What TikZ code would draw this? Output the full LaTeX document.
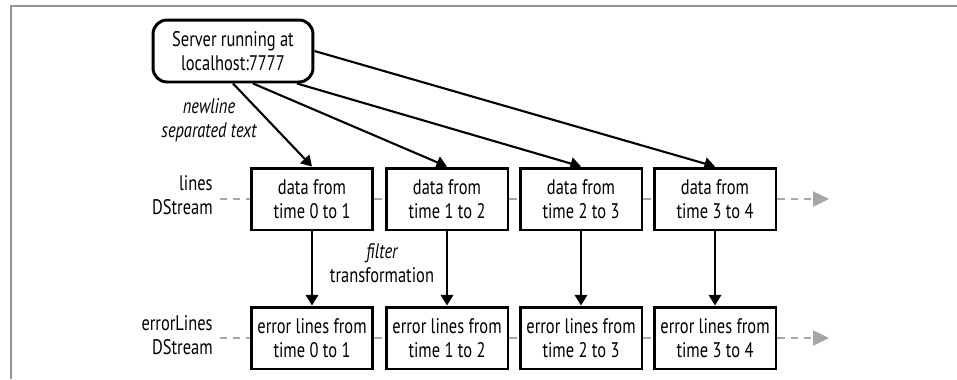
\documentclass[tikz,border=0pt]{standalone}
\usepackage{fontspec}
\setmainfont{PT Sans}[FakeStretch=0.78]
\usetikzlibrary{arrows.meta, positioning}

\begin{document}
\begin{tikzpicture}[x=0.02cm, y=-0.02cm,
    every node/.style={font=\fontsize{12}{13.3}\selectfont},
    box/.style={draw, line width=1.7pt, fill=white, minimum width=2.44cm, minimum height=1.24cm, align=center, inner sep=0pt},
    lbl/.style={align=right, anchor=east, inner sep=0pt},
    feed/.style={line width=1.2pt, -{Triangle[width=7pt,length=6pt]}},
    tick/.style={draw=gray!70, line width=1.2pt, dash pattern=on 4pt off 3.5pt}]
  \useasboundingbox (0,0) rectangle (957,379);
  \draw[gray!85, line width=1.1pt] (11,379) -- (11,6) -- (957,6);
  % source
  \node[box, rounded corners=8pt, minimum width=3.2cm] (srv) at (233,51) {Server running at\\localhost:7777};
  \node[align=center] (nl) at (209,120) {\itshape newline\\\itshape separated text};
  % the two streams
  \node[lbl] (ln) at (213,195) {lines\\DStream};
  \node[lbl] (el) at (213,335) {errorLines\\DStream};
  \foreach \i/\j/\x in {0/1/312, 1/2/447, 2/3/581, 3/4/715} {
    \node[box] (d\i) at (\x,199) {data from\\time \i\ to \j};
    \node[box] (e\i) at (\x,338) {error lines from\\time \i\ to \j};
    \draw[feed] (d\i.south) -- (e\i.north);
  }
  \node[align=center] (flt) at (382,263) {\itshape filter\\transformation};
  % server feeds
  \draw[feed] (srv.south) -- (d0.north);
  \draw[feed] ([xshift=0.4cm]srv.south) -- (d1.north);
  \draw[feed] ([xshift=1.28cm]srv.south) -- (d2.north);
  \draw[feed] (srv.east) -- (d3.north);
  % dashed time lines
  \coordinate (lend) at (829,199);
  \coordinate (eend) at (829,338);
  \draw[tick, shorten <=4pt] (ln.east |- d0.west) -- (d0.west);
  \draw[tick, shorten <=4pt] (el.east |- e0.west) -- (e0.west);
  \foreach \a/\b in {0/1, 1/2, 2/3} {
    \draw[tick] (d\a.east) -- (d\b.west);
    \draw[tick] (e\a.east) -- (e\b.west);
  }
  \draw[tick, -{Triangle[width=8.5pt,length=9pt]}, gray!70] (d3.east) -- (lend);
  \draw[tick, -{Triangle[width=8.5pt,length=9pt]}, gray!70] (e3.east) -- (eend);
\end{tikzpicture}
\end{document}
